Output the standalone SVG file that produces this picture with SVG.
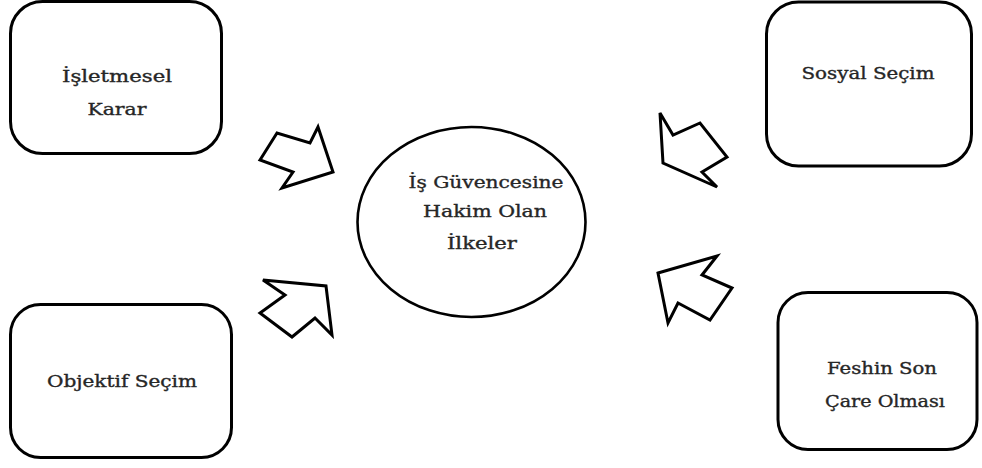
<svg xmlns="http://www.w3.org/2000/svg" width="982" height="468" viewBox="0 0 982 468">
<style>
.box{fill:#fff;stroke:#000;stroke-width:3}
.ell{fill:#fff;stroke:#000;stroke-width:2.6}
.arr{fill:#fff;stroke:#000;stroke-width:3;stroke-linejoin:miter}
.t{font-family:"DejaVu Serif","Liberation Serif",serif;font-size:16px;fill:#262626;stroke:#262626;stroke-width:0.35;text-anchor:middle}
</style>
<rect width="982" height="468" fill="#fff"/>
<g id="connectors">
<polygon class="arr" points="260,160 277,133 310,143 318,127 333,172 282,188 293,172"/>
<polygon class="arr" points="263,280 326,286 332,335 315,318 292,337 260,313 285,295"/>
<polygon class="arr" points="660,113 673,135 700,123 727,157 702,172 717,187 663,163"/>
<polygon class="arr" points="658,273 717,256 702,275 732,288 710,320 678,303 668,323"/>
</g>
<g id="node-isletmesel">
<rect class="box" x="10.5" y="1.5" width="211" height="152" rx="32"/>
<text class="t" x="117" y="82" textLength="110" lengthAdjust="spacingAndGlyphs">İşletmesel</text>
<text class="t" x="117" y="115" textLength="59" lengthAdjust="spacingAndGlyphs">Karar</text>
</g>
<g id="node-objektif">
<rect class="box" x="10.5" y="304.5" width="221" height="153" rx="30"/>
<text class="t" x="122" y="387" textLength="150" lengthAdjust="spacingAndGlyphs">Objektif Seçim</text>
</g>
<g id="node-sosyal">
<rect class="box" x="766.5" y="2" width="205" height="164" rx="32"/>
<text class="t" x="868" y="79" textLength="133" lengthAdjust="spacingAndGlyphs">Sosyal Seçim</text>
</g>
<g id="node-feshin">
<rect class="box" x="778" y="292.5" width="199" height="157" rx="30"/>
<text class="t" x="882" y="374" textLength="110" lengthAdjust="spacingAndGlyphs">Feshin Son</text>
<text class="t" x="885" y="407" textLength="120" lengthAdjust="spacingAndGlyphs">Çare Olması</text>
</g>
<g id="node-center">
<ellipse class="ell" cx="471.5" cy="222" rx="114" ry="95"/>
<text class="t" x="486" y="188" textLength="155" lengthAdjust="spacingAndGlyphs">İş Güvencesine</text>
<text class="t" x="485" y="217" textLength="124" lengthAdjust="spacingAndGlyphs">Hakim Olan</text>
<text class="t" x="482" y="249" textLength="70" lengthAdjust="spacingAndGlyphs">İlkeler</text>
</g>
</svg>
